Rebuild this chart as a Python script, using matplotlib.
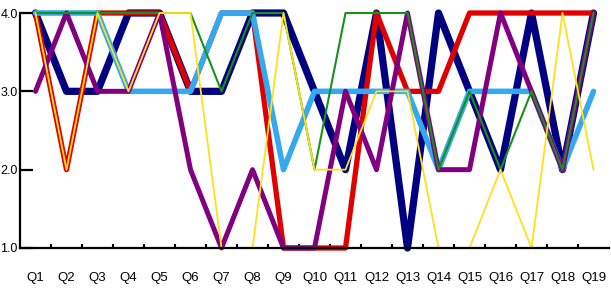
import matplotlib
matplotlib.use('Agg')
import matplotlib.pyplot as plt
from matplotlib import font_manager
import numpy as np

# prefer a condensed face like the reference, fall back to plain Liberation
names = {f.name for f in font_manager.fontManager.ttflist}
if 'Liberation Sans Narrow' in names:
    plt.rcParams['font.family'] = ['Liberation Sans Narrow', 'DejaVu Sans']
    fs, yfs = 11.5, 11
else:
    plt.rcParams['font.family'] = ['Liberation Sans', 'DejaVu Sans']
    fs, yfs = 9.5, 9

quarters = ['Q%d' % i for i in range(1, 20)]

navy   = [4, 3, 3, 4, 4, 3, 3, 4, 4, 3, 2, 4, 1, 4, 3, 2, 4, 2, 4]
red    = [4, 2, 4, 4, 4, 3, 4, 4, 1, 1, 1, 4, 3, 3, 4, 4, 4, 4, 4]
sky    = [4, 4, 4, 3, 3, 3, 4, 4, 2, 3, 3, 3, 3, 2, 3, 3, 3, 2, 3]
purple = [3, 4, 3, 3, 4, 2, 1, 2, 1, 1, 3, 2, 4, 2, 2, 4, 3, 2, 4]
green  = [4, 4, 4, 4, 4, 4, 3, 4, 4, 2, 4, 4, 4, 2, 3, 2, 3, 2, 4]
yellow = [4, 2, 4, 3, 4, 4, 1, 1, 4, 2, 2, 3, 3, 1, 1, 2, 1, 4, 2]

yticks = [1.0, 2.0, 3.0, 4.0]

fig = plt.figure(figsize=(6.11, 2.91), dpi=100)
ax = fig.add_axes([20/611, 43/291, 589/611, 235/291])

x = np.arange(1, 20)
series = [(navy, '#000080', 5.2),
          (red, '#e00000', 3.8),
          (sky, '#35a9f0', 4.0),
          (purple, '#800080', 3.6),
          (green, '#169216', 1.5),
          (yellow, '#ffe11a', 1.3)]
for vals, col, lw in series:
    ax.plot(x, vals, color=col, lw=lw, clip_on=False,
            solid_joinstyle='round', solid_capstyle='round')

ax.set_xlim(0.5, 19.5)
ax.set_ylim(1.0, 4.0)
ax.set_xticks(x)
ax.set_xticklabels(quarters, fontsize=fs)
ax.set_xticks(np.arange(1.5, 19.5, 1), minor=True)
ax.set_yticks(yticks)
ax.set_yticklabels(['%.1f' % v for v in yticks], fontsize=yfs)

ax.tick_params(axis='x', which='major', length=0, pad=17)
ax.tick_params(axis='x', which='minor', direction='in', length=3, width=1.5)
ax.tick_params(axis='y', direction='in', length=9, width=1.6, pad=1.5)

for s in ['top', 'right']:
    ax.spines[s].set_visible(False)
for s in ['left', 'bottom']:
    ax.spines[s].set_linewidth(1.6)

plt.savefig('out.png', dpi=100)
